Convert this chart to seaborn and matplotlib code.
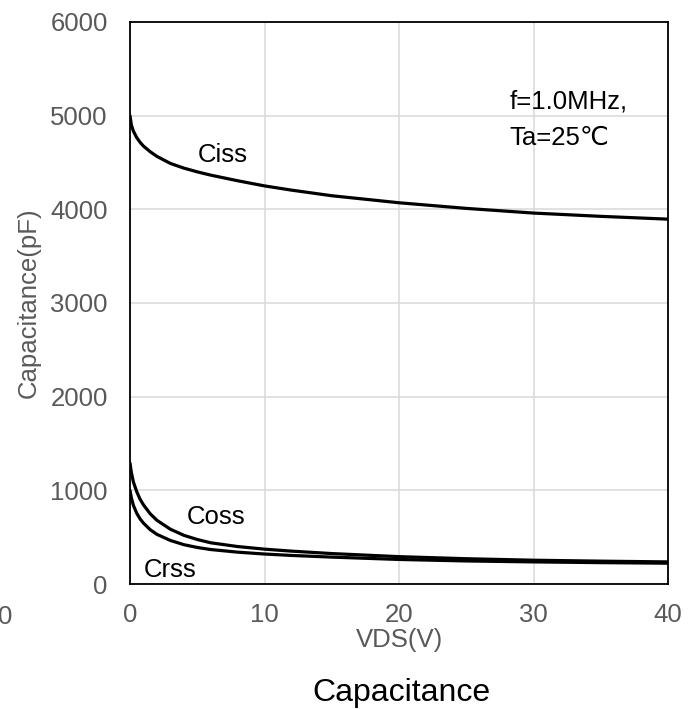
import pandas as pd
import matplotlib
matplotlib.use("Agg")
import matplotlib.pyplot as plt
import seaborn as sns

# ---------------------------
# DATA
# ---------------------------
vds = [0, 0.1, 0.25, 0.5, 0.75, 1, 1.5, 2, 3, 4, 5, 6, 8, 10, 12, 15, 20, 25, 30, 35, 40]
ciss = [5000, 4900, 4835, 4765, 4715, 4675, 4615, 4565, 4490, 4440, 4400, 4365, 4305,
        4250, 4205, 4145, 4070, 4010, 3960, 3925, 3895]
coss = [1290, 1190, 1090, 985, 905, 845, 750, 680, 585, 520, 475, 440, 400,
        372, 351, 325, 292, 270, 254, 244, 236]
crss = [1000, 920, 840, 755, 695, 650, 580, 530, 465, 420, 390, 368, 340,
        320, 305, 287, 262, 246, 236, 228, 222]

x_ticks = [0, 10, 20, 30, 40]
y_ticks = [0, 1000, 2000, 3000, 4000, 5000, 6000]

df = pd.DataFrame({
    "VDS": vds * 3,
    "C": ciss + coss + crss,
    "curve": ["Ciss"] * len(vds) + ["Coss"] * len(vds) + ["Crss"] * len(vds),
})

# ---------------------------
# STYLE
# ---------------------------
sns.set_theme(style="whitegrid")
plt.rcParams["font.family"] = ["Liberation Sans", "DejaVu Sans"]

grey = "#595959"
fs = 18.5

fig = plt.figure(figsize=(6.99, 7.09), dpi=100)
ax = fig.add_axes([0.186, 0.1763, 0.7697, 0.7927])

sns.lineplot(data=df, x="VDS", y="C", units="curve", estimator=None,
             color="black", linewidth=2.3, ax=ax, legend=False)

ax.set_xlim(0, 40)
ax.set_ylim(0, 6000)
ax.set_xticks(x_ticks)
ax.set_yticks(y_ticks)
ax.grid(True, color="#d9d9d9", linewidth=1.1)
for s in ax.spines.values():
    s.set_color("black")
    s.set_linewidth(1.3)

ax.tick_params(axis="both", length=0, labelsize=fs, labelcolor=grey)
ax.tick_params(axis="y", pad=16)
ax.tick_params(axis="x", pad=13.5)

ax.set_xlabel("VDS(V)", fontsize=fs, color=grey)
ax.xaxis.set_label_coords(0.5, -0.078)
ax.set_ylabel("Capacitance(pF)", fontsize=fs, color=grey)
ax.yaxis.set_label_coords(-0.166, 0.5)

# curve labels
ax.text(6.9, 4585, "Ciss", fontsize=fs, color="black", ha="center", va="center")
ax.text(6.4, 715, "Coss", fontsize=fs, color="black", ha="center", va="center")
ax.text(3.0, 150, "Crss", fontsize=fs, color="black", ha="center", va="center")

# conditions
ax.text(28.2, 5150, "f=1.0MHz,", fontsize=fs, color="black", ha="left", va="center")
ax.text(28.2, 4760, "Ta=25℃", fontsize=fs, color="black", ha="left", va="center",
        family=["Liberation Sans", "DejaVu Sans"])

# stray tick label at far left, and caption
fig.text(5 / 699, 1 - 617 / 709, "0", fontsize=fs, color=grey, ha="center", va="center")
fig.text(401 / 699, 1 - 701 / 709, "Capacitance", fontsize=23, color="black",
         ha="center", va="baseline")

fig.savefig("out.png", dpi=100)
